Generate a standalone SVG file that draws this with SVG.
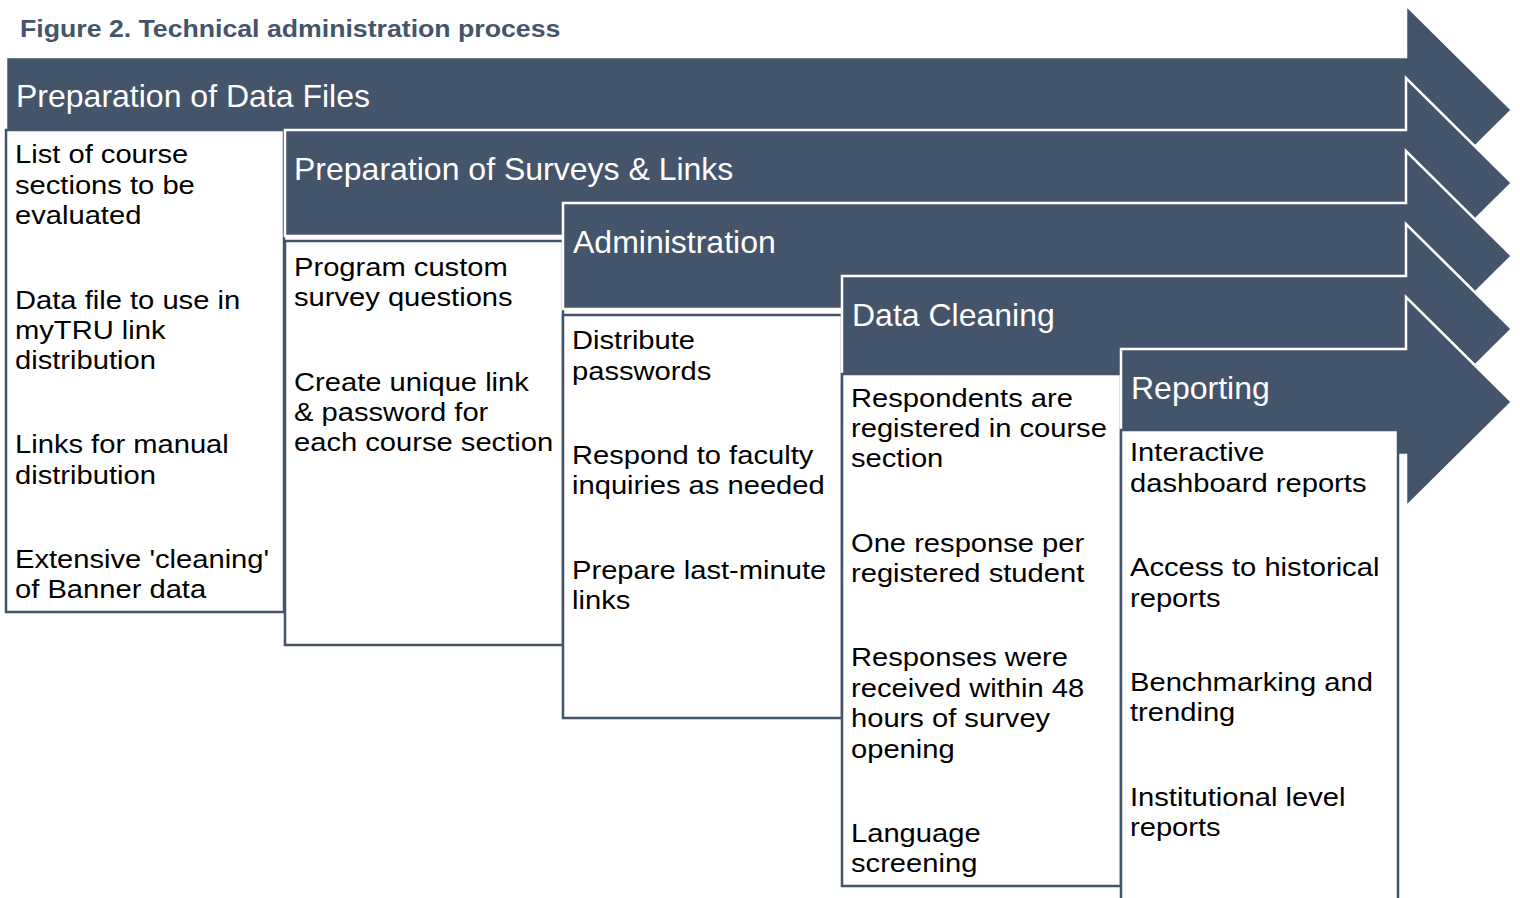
<svg xmlns="http://www.w3.org/2000/svg" width="1520" height="898" viewBox="0 0 1520 898">
<style>
.arrow{fill:#44546a;stroke:#ffffff;stroke-width:2.5;stroke-linejoin:miter}
.box{fill:#ffffff;stroke:#44546a;stroke-width:2.5}
.hdr{font-family:"Liberation Sans",Arial,sans-serif;font-size:32px;fill:#ffffff}
.body{font-family:"Liberation Sans",Arial,sans-serif;font-size:26.5px;fill:#000000}
.title{font-family:"Liberation Sans",Arial,sans-serif;font-size:23px;font-weight:bold;fill:#44546a}
</style>
<rect x="0" y="0" width="1520" height="898" fill="#ffffff"/>
<text class="title" transform="translate(20,37) scale(1.16,1)" x="0" y="0">Figure 2. Technical administration process</text>

<g id="stage1">
<path class="arrow" d="M6,57 H1406 V5 L1512,110 L1406,215 V163 H6 Z"/>
<text class="hdr" x="16" y="107">Preparation of Data Files</text>
<rect class="box" x="6" y="130" width="278" height="482"/>
<text class="body" transform="translate(15,0) scale(1.1,1)">
<tspan x="0" y="163">List of course</tspan><tspan x="0" y="194">sections to be</tspan><tspan x="0" y="224">evaluated</tspan>
<tspan x="0" y="309">Data file to use in</tspan><tspan x="0" y="339">myTRU link</tspan><tspan x="0" y="369">distribution</tspan>
<tspan x="0" y="453">Links for manual</tspan><tspan x="0" y="484">distribution</tspan>
<tspan x="0" y="568">Extensive 'cleaning'</tspan><tspan x="0" y="598">of Banner data</tspan>
</text>
</g>

<g id="stage2">
<path class="arrow" d="M285,130 H1406 V78 L1512,183 L1406,288 V236 H285 Z"/>
<text class="hdr" x="294" y="180">Preparation of Surveys &amp; Links</text>
<rect class="box" x="285" y="241" width="278" height="404"/>
<text class="body" transform="translate(294,0) scale(1.1,1)">
<tspan x="0" y="276">Program custom</tspan><tspan x="0" y="306">survey questions</tspan>
<tspan x="0" y="391">Create unique link</tspan><tspan x="0" y="421">&amp; password for</tspan><tspan x="0" y="451">each course section</tspan>
</text>
</g>

<g id="stage3">
<path class="arrow" d="M563,203 H1406 V151 L1512,256 L1406,361 V309 H563 Z"/>
<text class="hdr" x="573" y="253">Administration</text>
<rect class="box" x="563" y="315" width="279" height="403"/>
<text class="body" transform="translate(572,0) scale(1.1,1)">
<tspan x="0" y="349">Distribute</tspan><tspan x="0" y="380">passwords</tspan>
<tspan x="0" y="464">Respond to faculty</tspan><tspan x="0" y="494">inquiries as needed</tspan>
<tspan x="0" y="579">Prepare last-minute</tspan><tspan x="0" y="609">links</tspan>
</text>
</g>

<g id="stage4">
<path class="arrow" d="M842,276 H1406 V224 L1512,329 L1406,434 V382 H842 Z"/>
<text class="hdr" x="852" y="326">Data Cleaning</text>
<rect class="box" x="842" y="374" width="279" height="512"/>
<text class="body" transform="translate(851,0) scale(1.1,1)">
<tspan x="0" y="407">Respondents are</tspan><tspan x="0" y="437">registered in course</tspan><tspan x="0" y="467">section</tspan>
<tspan x="0" y="552">One response per</tspan><tspan x="0" y="582">registered student</tspan>
<tspan x="0" y="666">Responses were</tspan><tspan x="0" y="697">received within 48</tspan><tspan x="0" y="727">hours of survey</tspan><tspan x="0" y="758">opening</tspan>
<tspan x="0" y="842">Language</tspan><tspan x="0" y="872">screening</tspan>
</text>
</g>

<g id="stage5">
<path class="arrow" d="M1121,349 H1406 V297 L1512,402 L1406,507 V455 H1121 Z"/>
<text class="hdr" x="1131" y="399">Reporting</text>
<rect class="box" x="1121" y="430" width="277" height="480"/>
<text class="body" transform="translate(1130,0) scale(1.1,1)">
<tspan x="0" y="461">Interactive</tspan><tspan x="0" y="492">dashboard reports</tspan>
<tspan x="0" y="576">Access to historical</tspan><tspan x="0" y="607">reports</tspan>
<tspan x="0" y="691">Benchmarking and</tspan><tspan x="0" y="721">trending</tspan>
<tspan x="0" y="806">Institutional level</tspan><tspan x="0" y="836">reports</tspan>
</text>
</g>

<g id="connectors"></g>
</svg>
